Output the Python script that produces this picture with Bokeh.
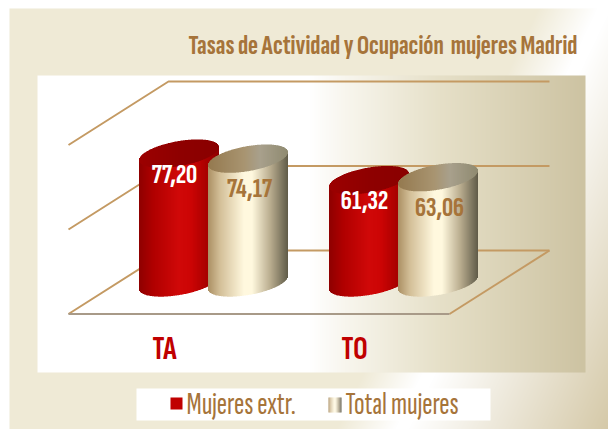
import numpy as np
from bokeh.plotting import figure
from bokeh.models import Range1d
from bokeh.embed import file_html
from bokeh.resources import INLINE
from bokeh.core.properties import value

# ---- data ----
categories = ["TA", "TO"]
mujeres_extr = [77.20, 61.32]
total_mujeres = [74.17, 63.06]
value_labels_extr = ["77,20", "61,32"]
value_labels_total = ["74,17", "63,06"]
series_names = ["Mujeres extr.", "Total mujeres"]
title_text = "Tasas de Actividad y Ocupación\u00a0 mujeres Madrid"

# ---- layout ----
W, H = 608, 429
PX_PER_UNIT = 1.67
BASE_PX = 282.0
GROUP_CENTRES = [213.5, 403.5]
OFFSET = 34.5
HALF_W = 40
TILT = 6.5
FLAT = 12.6
FONT = "Sofia Sans Extra Condensed"
BROWN = "#a6743a"
RED = "#c00000"
LINE = "#c49a63"


def hex2(c):
    return np.array([int(c[i:i + 2], 16) for i in (1, 3, 5)], float)


def ramp(stops, t):
    xs = [s[0] for s in stops]
    return tuple(int(round(np.interp(t, xs, [hex2(s[1])[k] for s in stops]))) for k in range(3))


def tohex(c):
    return "#%02x%02x%02x" % c


def Y(py):
    return H - np.asarray(py, float)


p = figure(width=W, height=H, output_backend="svg", toolbar_location=None,
           x_range=Range1d(0, W), y_range=Range1d(0, H),
           min_border=0, outline_line_color=None, x_axis_type=None, y_axis_type=None)
p.background_fill_color = None
p.border_fill_color = None
p.grid.visible = False
p.extra_y_ranges["values"] = Range1d((BASE_PX - H) / PX_PER_UNIT, BASE_PX / PX_PER_UNIT)


def grad_img(x0, y0, x1, y1, fn):
    xs, ys = np.meshgrid(np.arange(x0, x1) + .5, np.arange(y0, y1) + .5)
    rgb = fn(xs, ys)
    a = np.full(xs.shape, 255, dtype=np.uint32)
    img = (a << 24) | (rgb[2].astype(np.uint32) << 16) | (rgb[1].astype(np.uint32) << 8) | rgb[0].astype(np.uint32)
    p.image_rgba(image=[img[::-1]], x=x0, y=H - y1, dw=x1 - x0, dh=y1 - y0)


OUTER = [(0, "#efead6"), (540, "#efead6"), (600, "#ffffff"), (615, "#ffffff"), (814, "#d5c9a8")]
INNER = [(37, "#ffffff"), (310, "#ffffff"), (345, "#f8f6ee"), (440, "#e6e0c8"), (585, "#cdc3a2")]


def outer(xs, ys):
    t = xs + ys * 0.48
    return [np.interp(t, [s[0] for s in OUTER], [hex2(s[1])[k] for s in OUTER]) for k in range(3)]


def inner(xs, ys):
    return [np.interp(xs, [s[0] for s in INNER], [hex2(s[1])[k] for s in INNER]) for k in range(3)]


grad_img(9, 8, W, H, outer)
grad_img(37, 75, 585, 372, inner)

# wireframe
for yb in (81, 165.5, 250):
    d = 63.5
    p.line([68, 168, 549], Y([yb + d, yb, yb]), line_color=LINE, line_width=2)
p.line([449, 549], Y([313.5, 250]), line_color=LINE, line_width=2)
p.line([68, 449], Y([313.5, 313.5]), line_color="#a89a88", line_width=2)

RED_BODY = [(0, "#8e0000"), (0.18, "#b00000"), (0.5, "#d00808"), (0.65, "#cc0404"), (0.85, "#a80000"), (1, "#8e0000")]
RED_TOP = [(0, "#9c0000"), (0.5, "#8e0000"), (1, "#8a0000")]
TAN_BODY = [(0, "#ab8f63"), (0.15, "#d3bf98"), (0.45, "#fff8de"), (0.55, "#fff8de"), (0.78, "#b9ac8e"), (1, "#5f5b48")]
TAN_TOP = [(0, "#94794f"), (0.45, "#a89470"), (0.65, "#a8a08c"), (1, "#8f8a70")]


def cylinder(cx, v, body, top):
    xs = np.arange(cx - HALF_W, cx + HALF_W)
    u = (xs + .5 - cx) / HALF_W
    arc = FLAT * np.sqrt(np.clip(1 - u ** 2, 0, 1)) / PX_PER_UNIT
    tilt = TILT * u / PX_PER_UNIT
    colours = [tohex(ramp(body, (t + 1) / 2)) for t in u]
    tcolours = [tohex(ramp(top, (t + 1) / 2)) for t in u]
    p.quad(left=xs, right=xs + 1, bottom=tilt - arc, top=v + tilt, fill_color=colours,
           line_color=None, y_range_name="values")
    p.quad(left=xs, right=xs + 1, bottom=v + tilt - arc, top=v + tilt + arc, fill_color=tcolours,
           line_color=None, y_range_name="values")


for i, c in enumerate(GROUP_CENTRES):
    cylinder(c - OFFSET - .5, mujeres_extr[i], RED_BODY, RED_TOP)
    cylinder(c + OFFSET - .5, total_mujeres[i], TAN_BODY, TAN_TOP)


def label(x, y, s, size, color, style="bold", align="center"):
    p.text([x], Y([y]), text=[s], text_font=value(FONT), text_font_size=size, text_color=color,
           text_font_style=style, text_align=align, text_baseline="middle")


for i, c in enumerate(GROUP_CENTRES):
    label(c - 39.5, BASE_PX - mujeres_extr[i] * PX_PER_UNIT + 20, value_labels_extr[i], "28px", "#ffffff")
    label(c + 35.5, BASE_PX - total_mujeres[i] * PX_PER_UNIT + 29.5, value_labels_total[i], "28px", BROWN)
    label(c - 49.5, 348, categories[i], "33px", RED)

label(188, 44.5, title_text, "27.8px", BROWN, align="left")

# legend
p.quad(left=[136], right=[490], bottom=Y([420]), top=Y([388]), fill_color="#ffffff", line_color=None)
p.quad(left=[170], right=[182], bottom=Y([409]), top=Y([397]), fill_color=RED, line_color=None)
sx = np.arange(328, 341)
p.quad(left=sx, right=sx + 1, bottom=Y(412), top=Y(397),
       fill_color=[tohex(ramp(TAN_BODY, (x - 328) / 12)) for x in sx], line_color=None)
label(186, 404, series_names[0], "31.3px", BROWN, style="normal", align="left")
label(345, 404, series_names[1], "31.3px", BROWN, style="normal", align="left")

open("out.html", "w").write(file_html(p, INLINE))
